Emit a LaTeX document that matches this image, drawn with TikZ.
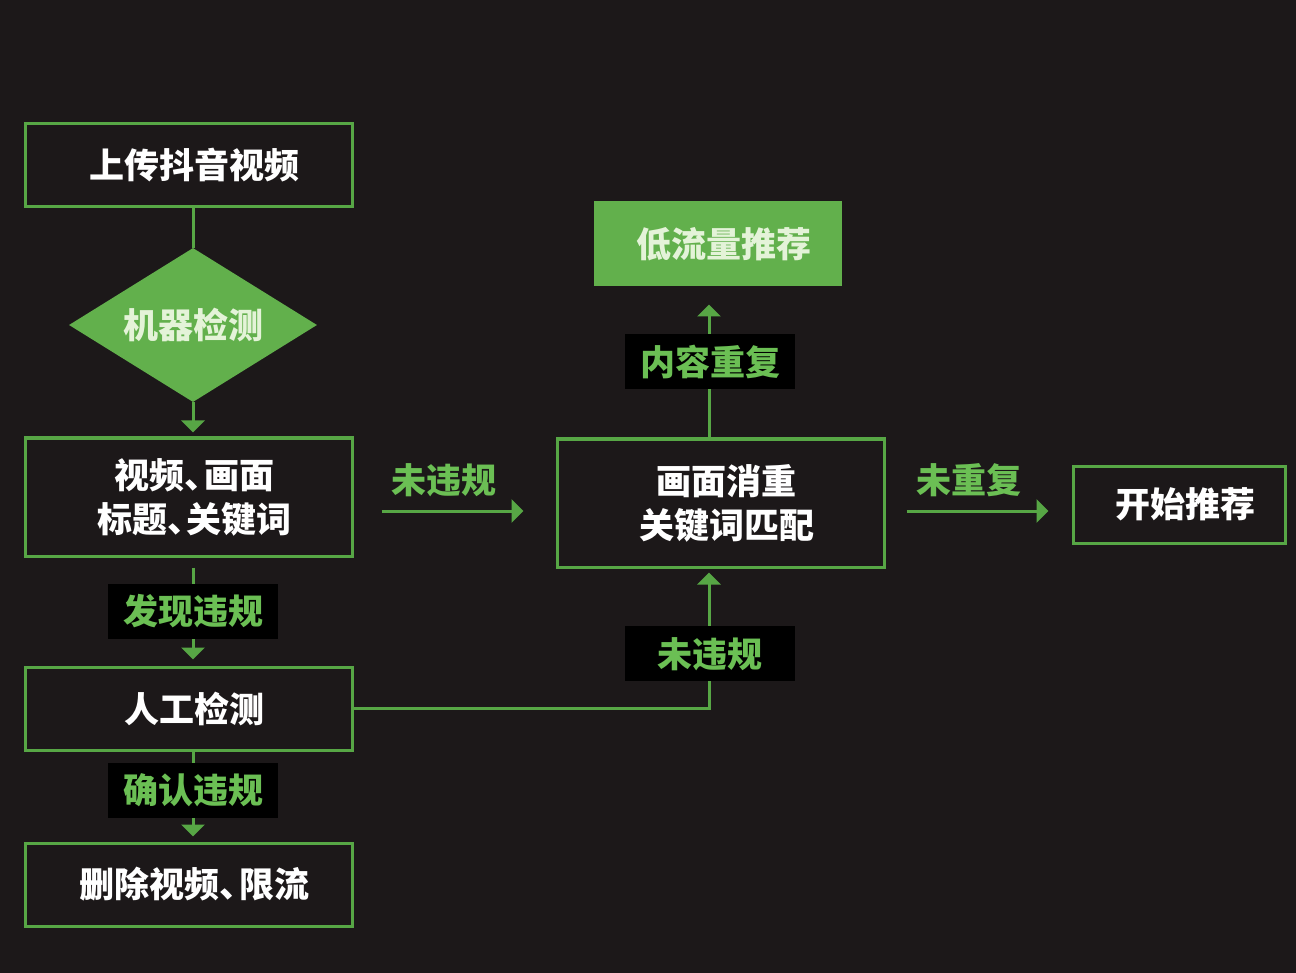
\documentclass[tikz,border=0pt]{standalone}
\usepackage{fontspec}
\newfontfamily\cjk{Noto Sans CJK SC}
\usetikzlibrary{shapes.geometric,arrows.meta,calc}
\definecolor{bg}{HTML}{1C1819}
\definecolor{gline}{HTML}{57A645}
\definecolor{gfill}{HTML}{62B04C}
\definecolor{glab}{HTML}{6BBF54}
\definecolor{mint}{HTML}{E4F3D8}
\newcommand{\dun}{\makebox[0.55em][l]{、}}
\newcommand{\sh}{\hspace*{12pt}}
\begin{document}
\begin{tikzpicture}[x=1pt,y=-1pt,
  box/.style={draw=gline, line width=3pt, minimum width=327pt, minimum height=83pt, inner sep=0pt,
    text=white, align=center, font=\cjk\bfseries\fontsize{35}{44}\selectfont},
  fbox/.style={box, fill=gfill, draw=gfill, text=mint},
  dia/.style={diamond, fill=gfill, aspect=1.6, minimum width=248pt, minimum height=154pt, inner sep=0pt,
    text=mint, font=\cjk\bfseries\fontsize{35}{35}\selectfont},
  lab/.style={fill=black, text=glab, minimum width=170pt, minimum height=55pt, inner sep=0pt,
    font=\cjk\bfseries\fontsize{35}{35}\selectfont},
  tlab/.style={text=glab, inner sep=0pt, font=\cjk\bfseries\fontsize{35}{35}\selectfont},
  conn/.style={draw=gline, line width=3pt},
  arr/.style={conn, -{Triangle[width=23pt,length=12pt]}}
]
\fill[bg] (0,0) rectangle (1296,973);
\useasboundingbox (0,0) rectangle (1296,973);

% nodes
\node[box] (up) at (188.5,165.5) {\sh{}上传抖音视频};
\node[dia] (det) at (193,325) {机器检测};
\node[box, minimum height=118pt] (vid) at (188.5,497) {\sh{}视频\dun{}画面\\\sh{}标题\dun{}关键词};
\node[box] (man) at (188.5,708.5) {\sh{}人工检测};
\node[box] (del) at (188.5,884.5) {\sh{}删除视频\dun{}限流};
\node[box, minimum height=128pt] (mid) at (720.5,503) {\sh{}画面消重\\\sh{}关键词匹配};
\node[fbox, minimum width=245pt, minimum height=82pt] (low) at (717.5,244) {\sh{}低流量推荐};
\node[box, minimum width=212pt, minimum height=77pt] (start) at (1179,504.5) {\sh{}开始推荐};

\coordinate (col) at (709,0);
\coordinate (lc) at (193,0);
\coordinate (ya) at (0,511);

% connectors
\draw[conn] (up.south -| lc) -- (det.north);
\draw[arr, shorten >=4pt] (det.south) -- (vid.north -| det.south);
\draw[arr, shorten >=6pt, shorten <=10pt] (vid.south -| lc) -- (man.north -| lc);
\draw[arr, shorten >=5pt] (man.south -| lc) -- (del.north -| lc);
\draw[arr, shorten >=4pt] (man.east) -| (mid.south -| col);
\draw[arr, shorten >=18pt] (mid.north -| col) -- (low.south -| col);
\draw[arr, shorten <=28pt, shorten >=32pt] (vid.east |- ya) -- node[tlab, pos=0.45, above=13pt] (n1) {未违规} (mid.west |- ya);
\draw[arr, shorten <=21pt, shorten >=23pt] (mid.east |- ya) -- node[tlab, pos=0.45, above=13pt] (n2) {未重复} (start.west |- ya);

% labels on connectors
\path (vid.south -| lc) -- (man.north -| lc) node[lab, pos=0.5] (l1) {发现违规};
\path (man.south -| lc) -- (del.north -| lc) node[lab, pos=0.43] (l2) {确认违规};
\path (mid.north -| col) -- (low.south -| col) node[lab, pos=0.5, xshift=1pt] (l3) {内容重复};
\coordinate (corner) at (man.east -| col);
\path (corner) -- (mid.south -| col) node[lab, pos=0.39, xshift=1pt] (l4) {未违规};
\end{tikzpicture}
\end{document}
